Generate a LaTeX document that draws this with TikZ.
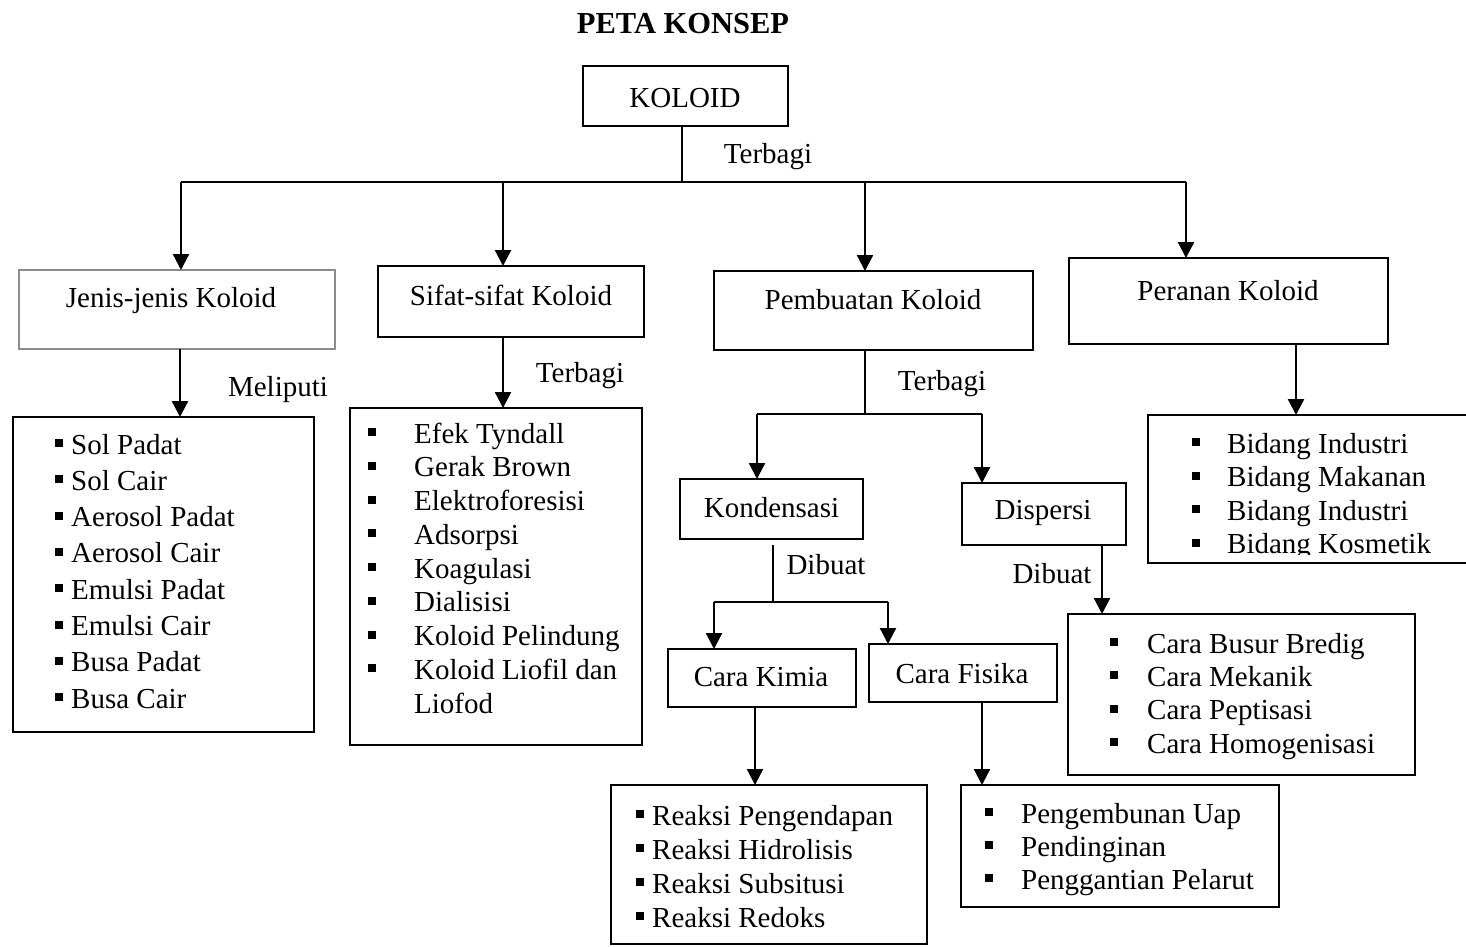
\documentclass[tikz,border=0pt]{standalone}
\usepackage{fontspec}
\setmainfont{Liberation Serif}
\usetikzlibrary{arrows.meta}
\newcommand{\bul}{\rule[7pt]{8pt}{8pt}}
\newcommand{\bx}[6][]{\node[box,#1,anchor=north west,minimum width={#4-#2},minimum height={#5-#3}] (#6) at (#2,#3) {};}
\tikzset{
  box/.style={draw=black,line width=2.6pt,inner sep=0pt,outer sep=0pt},
  graybox/.style={draw=black!45},
  lbl/.style={anchor=base,inner sep=0pt},
  item/.style={anchor=base west,inner sep=0pt},
  arr/.style={line width=2.3pt,-{Triangle[width=16pt,length=16pt]}},
  thinl/.style={line width=1.3pt},
  midl/.style={line width=2pt},
}
\begin{document}
\begin{tikzpicture}[x=1pt,y=-1pt,font=\fontsize{29}{33}\selectfont]
\useasboundingbox (0,0) rectangle (1466,946);
% title
\node[lbl,font=\fontsize{30.5}{34}\selectfont\bfseries] (title) at (683,33) {PETA KONSEP};
% boxes
\bx{583}{66}{788}{126}{koloid}
\node[lbl] (koloid-t) at (685,107) {KOLOID};
\bx[graybox]{19}{270}{335}{349}{jenis}
\node[lbl] (jenis-t) at (171,307) {Jenis-jenis Koloid};
\bx{378}{266}{644}{337}{sifat}
\node[lbl] (sifat-t) at (511,305) {Sifat-sifat Koloid};
\bx{714}{271}{1033}{350}{pemb}
\node[lbl] (pemb-t) at (873,309) {Pembuatan Koloid};
\bx{1069}{258}{1388}{344}{peran}
\node[lbl] (peran-t) at (1228,300) {Peranan Koloid};
% lists
\bx{13}{417}{314}{732}{sol}
\foreach \t [count=\i] in {Sol Padat, Sol Cair, Aerosol Padat, Aerosol Cair, Emulsi Padat, Emulsi Cair, Busa Padat, Busa Cair}
  \node[item] (sol-\i) at ({55},{454+36.3*(\i-1)}) {\makebox[16pt][l]{\bul}\t};
\bx{350}{408}{642}{745}{sifl}
\foreach \t [count=\i] in {Efek Tyndall, Gerak Brown, Elektroforesisi, Adsorpsi, Koagulasi, Dialisisi, Koloid Pelindung, Koloid Liofil dan}
  \node[item] (sifl-\i) at ({368},{443+33.75*(\i-1)}) {\makebox[46pt][l]{\bul}\t};
\node[item] (sifl-9) at (414,713) {Liofod};
\bx{1148}{415}{1467}{563}{perl}
\begin{scope}
\clip (1140,400) rectangle (1466,554);
\foreach \t [count=\i] in {Bidang Industri, Bidang Makanan, Bidang Industri, Bidang Kosmetik}
  \node[item] (perl-\i) at ({1192},{453+33.5*(\i-1)}) {\makebox[35pt][l]{\bul}\t};
\end{scope}
\bx{680}{479}{863}{539}{kond}
\node[lbl] (kond-t) at (771.5,517) {Kondensasi};
\bx{962}{483}{1126}{545}{disp}
\node[lbl] (disp-t) at (1043,519) {Dispersi};
\bx{668}{649}{856}{707}{kimia}
\node[lbl] (kimia-t) at (761,686) {Cara Kimia};
\bx{869}{644}{1057}{702}{fisika}
\node[lbl] (fisika-t) at (962,683) {Cara Fisika};
\bx{1068}{614}{1415}{775}{displ}
\foreach \t [count=\i] in {Cara Busur Bredig, Cara Mekanik, Cara Peptisasi, Cara Homogenisasi}
  \node[item] (displ-\i) at ({1110},{653+33.4*(\i-1)}) {\makebox[37pt][l]{\bul}\t};
\bx{611}{785}{927}{944}{reak}
\foreach \t [count=\i] in {Reaksi Pengendapan, Reaksi Hidrolisis, Reaksi Subsitusi, Reaksi Redoks}
  \node[item] (reak-\i) at ({636},{825+34*(\i-1)}) {\makebox[16pt][l]{\bul}\t};
\bx{961}{785}{1279}{907}{peng}
\foreach \t [count=\i] in {Pengembunan Uap, Pendinginan, Penggantian Pelarut}
  \node[item] (peng-\i) at ({985},{823+33.2*(\i-1)}) {\makebox[36pt][l]{\bul}\t};
% connector labels
\node[lbl] (l-terbagi1) at (768,163) {Terbagi};
\node[lbl] (l-meliputi) at (278,396) {Meliputi};
\node[lbl] (l-terbagi2) at (580,382) {Terbagi};
\node[lbl] (l-terbagi3) at (942,390) {Terbagi};
\node[lbl] (l-dibuat1) at (826,574) {Dibuat};
\node[lbl] (l-dibuat2) at (1052,583) {Dibuat};
% connectors: top level
\coordinate (kx) at (682,182);
\coordinate (hL) at (181,182);
\coordinate (hS) at (503,182);
\coordinate (hP) at (865,182);
\coordinate (hR) at (1186,182);
\draw[thinl] (kx |- koloid.south) -- (kx);
\draw[thinl] (hL) -- (hR);
\draw[arr] (hL) -- (hL |- jenis.north);
\draw[arr] (hS) -- (hS |- sifat.north);
\draw[arr] (hP) -- (hP |- pemb.north);
\draw[arr] (hR) -- (hR |- peran.north);
% second level
\coordinate (jx) at (180,0);
\draw[arr] (jx |- jenis.south) -- (jx |- sol.north);
\coordinate (sx) at (503,0);
\draw[arr] (sx |- sifat.south) -- (sx |- sifl.north);
\coordinate (px) at (1296,0);
\draw[arr] (px |- peran.south) -- (px |- perl.north);
% pembuatan split
\coordinate (pm) at (865,414);
\coordinate (pl) at (757,414);
\coordinate (pr) at (982,414);
\draw[thinl] (pm |- pemb.south) -- (pm);
\draw[midl] (pl) -- (pr);
\draw[arr] (pl) -- (pl |- kond.north);
\draw[arr] (pr) -- (pr |- disp.north);
% kondensasi split
\coordinate (km) at (773,602);
\coordinate (kl) at (714,602);
\coordinate (kr) at (888,602);
\draw[thinl] ([yshift=-6pt]km |- kond.south) -- (km);
\draw[midl] (kl) -- (kr);
\draw[arr] (kl) -- (kl |- kimia.north);
\draw[arr] (kr) -- (kr |- fisika.north);
% dispersi
\coordinate (dx) at (1102,0);
\draw[arr] (dx |- disp.south) -- (dx |- displ.north);
% kimia / fisika
\coordinate (cx) at (755,0);
\draw[arr] (cx |- kimia.south) -- (cx |- reak.north);
\coordinate (fx) at (982,0);
\draw[arr] (fx |- fisika.south) -- (fx |- peng.north);
\end{tikzpicture}
\end{document}
